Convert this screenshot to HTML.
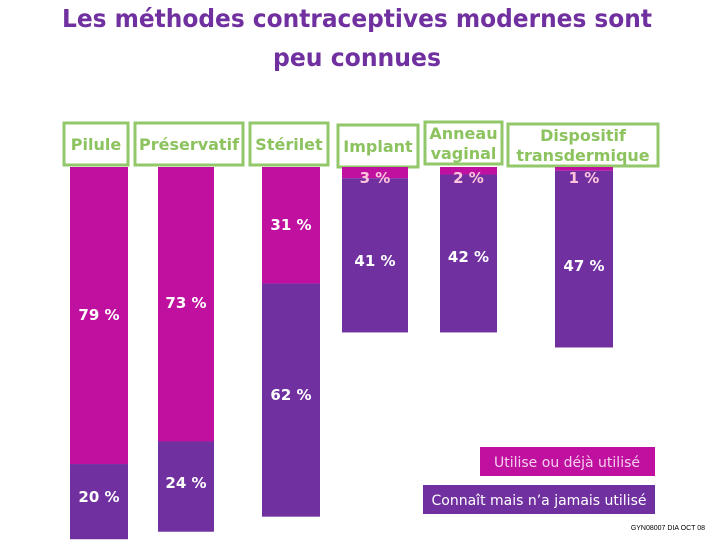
<!DOCTYPE html>
<html><head><meta charset="utf-8"><style>
body{margin:0;width:720px;height:540px;background:#fff;overflow:hidden;font-family:"Liberation Sans","DejaVu Sans",sans-serif}
</style></head><body>
<svg width="720" height="540" id="svg">
<text x="357" y="27" text-anchor="middle" font-size="25" font-weight="bold" fill="#7030a0" font-family="DejaVu Sans, sans-serif" textLength="590" lengthAdjust="spacingAndGlyphs">Les méthodes contraceptives modernes sont</text>
<text x="357" y="66" text-anchor="middle" font-size="25" font-weight="bold" fill="#7030a0" font-family="DejaVu Sans, sans-serif" textLength="168" lengthAdjust="spacingAndGlyphs">peu connues</text>
<g id="bars"></g>
<rect x="480" y="447" width="175" height="29" fill="#c0109f"/>
<text x="567" y="467" text-anchor="middle" font-size="14" fill="#f4d0ee" font-family="DejaVu Sans, sans-serif">Utilise ou déjà utilisé</text>
<rect x="423" y="485" width="232" height="29" fill="#7030a0"/>
<text x="539" y="505" text-anchor="middle" font-size="14" fill="#fff" font-family="DejaVu Sans, sans-serif">Connaît mais n’a jamais utilisé</text>
<text x="705" y="530" text-anchor="end" font-size="7" fill="#000">GYN08007 DIA OCT 08</text>
</svg>
<script>
const categories=["Pilule","Préservatif","Stérilet","Implant","Anneau|vaginal","Dispositif|transdermique"];
const usedValues=[79,73,31,3,2,1];
const knownValues=[20,24,62,41,42,47];
const barX=[70,158,262,342,440,555];
const barW=[58,56,58,66,57,58];
const boxes=[[64,123,64],[135,123,108],[250,123,78],[338,125,80],[425,122,77],[508,124,150]];
const usedLabelY=[320,308,230,178,176,176];
const knownLabelY=[502,488,400,266,262,271];
const top0=167, k=3.76;
const y=v=>v*k;
const ns="http://www.w3.org/2000/svg";
const g=document.getElementById('bars');
function mk(tag,attrs){const e=document.createElementNS(ns,tag);for(const a in attrs)e.setAttribute(a,attrs[a]);g.appendChild(e);return e;}
categories.forEach((c,i)=>{
  const b=boxes[i];
  const box=mk('rect',{x:b[0],y:b[1],width:b[2],height:42,fill:'#fff',stroke:'#92c76a','stroke-width':3});
  
  
  const parts=c.split('|');
  parts.forEach((p,j)=>{
    const t=mk('text',{x:b[0]+b[2]/2,y:parts.length>1?b[1]+17+j*20:b[1]+27,'text-anchor':'middle','font-size':16,'font-weight':'bold',fill:'#8cc35f','font-family':'DejaVu Sans, sans-serif'});
    t.textContent=p;
    
    
  });
  const hu=y(usedValues[i]), hk=y(knownValues[i]);
  const r1=mk('rect',{x:barX[i],y:top0,width:barW[i],height:hu,fill:'#c0109f'});
  
  
  const r2=mk('rect',{x:barX[i],y:top0+hu,width:barW[i],height:hk,fill:'#7030a0'});
  
  
  const cx=barX[i]+barW[i]/2;
  const small=usedValues[i]<5;
  const t1=mk('text',{x:cx,y:small?top0+16:usedLabelY[i],'text-anchor':'middle','font-size':15,'font-weight':'bold',fill:small?'#ffc4dc':'#fff','font-family':'DejaVu Sans, sans-serif'});
  t1.textContent=usedValues[i]+' %';
  
  
  const t2=mk('text',{x:cx,y:knownLabelY[i],'text-anchor':'middle','font-size':15,'font-weight':'bold',fill:'#fff','font-family':'DejaVu Sans, sans-serif'});
  t2.textContent=knownValues[i]+' %';
  
  
});
</script>
</body></html>
